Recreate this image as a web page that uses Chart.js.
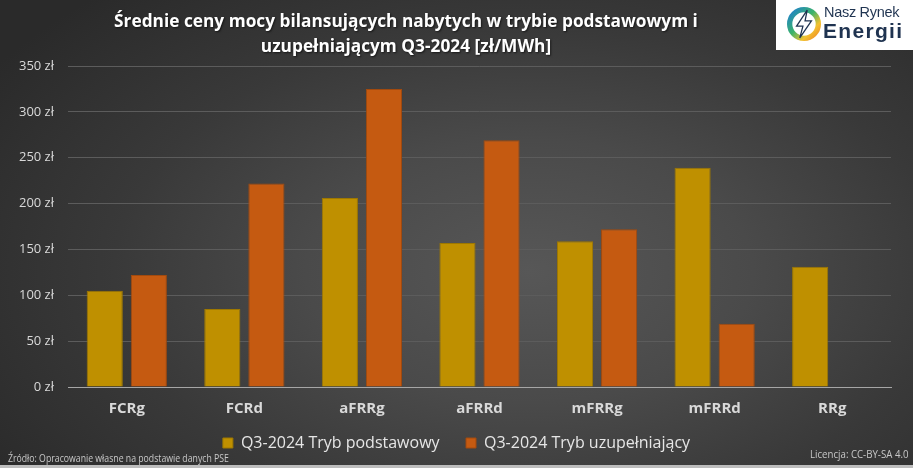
<!DOCTYPE html>
<html lang="pl">
<head>
<meta charset="utf-8">
<script src="https://cdn.jsdelivr.net/npm/chart.js@4/dist/chart.umd.min.js"></script>
<style>
  html, body { margin: 0; padding: 0; }
  body { width: 913px; height: 468px; overflow: hidden; font-family: "Open Sans", sans-serif; }
  #wrap {
    position: relative; width: 913px; height: 468px;
    background: radial-gradient(ellipse 70% 80% at 58% 58%, #575757 0%, #4a4a4a 35%, #393939 65%, #2a2a2a 100%);
  }
  #wrap canvas { position: absolute; left: 0; top: 0; }
  #tytul {
    position: absolute; left: 56px; width: 700px; top: 8px;
    text-align: center; color: #fff; font-weight: 700; font-size: 17.3px; line-height: 25px;
    text-shadow: 1px 1px 2px rgba(0,0,0,0.6);
  }
  #logo {
    position: absolute; left: 776px; top: 0; width: 137px; height: 50px; background: #fff;
  }
  #logo .nazwa1 { position: absolute; left: 48px; top: 4px; font-family: "Liberation Sans", sans-serif; font-size: 14.5px; color: #1f3350; letter-spacing: -0.3px; }
  #logo .nazwa2 { position: absolute; left: 47px; top: 19px; font-family: "Liberation Sans", sans-serif; font-weight: 700; font-size: 21px; color: #1f3350; letter-spacing: 1.3px; }
  #logo svg { position: absolute; left: 11px; top: 7px; }
  .stopka { position: absolute; font-size: 10.5px; color: #c8c8c8; transform-origin: left center; transform: scaleX(0.83); white-space: nowrap; }
  #pasek { position: absolute; left: 0; bottom: 0; width: 913px; height: 3px; background: #bdbdbd; }
</style>
</head>
<body>
<div id="wrap">
  <canvas id="wykres" width="913" height="468"></canvas>
  <div id="tytul">Średnie ceny mocy bilansujących nabytych w trybie podstawowym i<br>uzupełniającym Q3-2024 [zł/MWh]</div>
  <div id="logo">
    <svg width="34" height="34" viewBox="0 0 32 32">
      <defs>
        <linearGradient id="g1" x1="0" y1="0" x2="1" y2="1">
          <stop offset="0" stop-color="#1e7fd0"/>
          <stop offset="0.45" stop-color="#3bb36a"/>
          <stop offset="0.75" stop-color="#f2c230"/>
          <stop offset="1" stop-color="#f08a24"/>
        </linearGradient>
      </defs>
      <circle cx="16" cy="16" r="13.5" fill="none" stroke="url(#g1)" stroke-width="5"/>
      <polygon points="19,3 9,18 15,18 12,29 23,13 17,13" fill="#ffffff" stroke="#1f3350" stroke-width="1.2"/>
    </svg>
    <div class="nazwa1">Nasz Rynek</div>
    <div class="nazwa2">Energii</div>
  </div>
  <div class="stopka" style="left:8px; top:451px;">Źródło: Opracowanie własne na podstawie danych PSE</div>
  <div class="stopka" style="left:810px; top:447px; transform: scaleX(0.92);">Licencja: CC-BY-SA 4.0</div>
  <div id="pasek"></div>
</div>
<script>
const kategorie = ["FCRg", "FCRd", "aFRRg", "aFRRd", "mFRRg", "mFRRd", "RRg"];
const trybPodstawowy = [105, 85, 206, 157, 159, 239, 131];
const trybUzupelniajacy = [122, 222, 325, 269, 172, 69, null];
const nazwySerii = ["Q3-2024 Tryb podstawowy", "Q3-2024 Tryb uzupełniający"];

const ctx = document.getElementById("wykres").getContext("2d");
new Chart(ctx, {
  type: "bar",
  data: {
    labels: kategorie,
    datasets: [
      {
        label: nazwySerii[0],
        data: trybPodstawowy,
        backgroundColor: "#bf9000",
        borderColor: "#9e7800",
        borderWidth: 1
      },
      {
        label: nazwySerii[1],
        data: trybUzupelniajacy,
        backgroundColor: "#c55a11",
        borderColor: "#a24a0e",
        borderWidth: 1
      }
    ]
  },
  options: {
    responsive: false,
    animation: false,
    categoryPercentage: 0.75,
    barPercentage: 0.82,
    layout: { padding: { left: 0, right: 0, top: 66, bottom: 7 } },
    scales: {
      x: {
        grid: { display: false, drawTicks: false },
        border: { color: "#a6a6a6", width: 1 },
        ticks: { color: "#d9d9d9", padding: 13, font: { family: "Open Sans", size: 15, weight: "bold" } },
        afterFit: s => { s.height = 34; }
      },
      y: {
        min: 0,
        max: 350,
        grid: { color: "#5c5c5c", drawTicks: false },
        border: { display: false },
        ticks: {
          stepSize: 50,
          color: "#d9d9d9",
          padding: 14,
          font: { family: "Open Sans", size: 13 },
          callback: v => v + " zł"
        },
        afterFit: s => { s.width = 68; }
      },
      // pusta oś po prawej, tylko żeby zostawić margines
      yPrawa: {
        position: "right",
        grid: { display: false, drawTicks: false },
        border: { display: false },
        ticks: { display: false },
        afterFit: s => { s.width = 22; }
      }
    },
    plugins: {
      title: { display: false },
      tooltip: { enabled: false },
      legend: {
        position: "bottom",
        labels: {
          color: "#e6e6e6",
          boxWidth: 10,
          boxHeight: 10,
          padding: 14,
          font: { family: "Open Sans", size: 16 },
          generateLabels: chart => {
            const items = Chart.defaults.plugins.legend.labels.generateLabels(chart);
            items[0].text = items[0].text + "   ";
            return items;
          }
        }
      }
    }
  }
});
</script>
</body>
</html>
